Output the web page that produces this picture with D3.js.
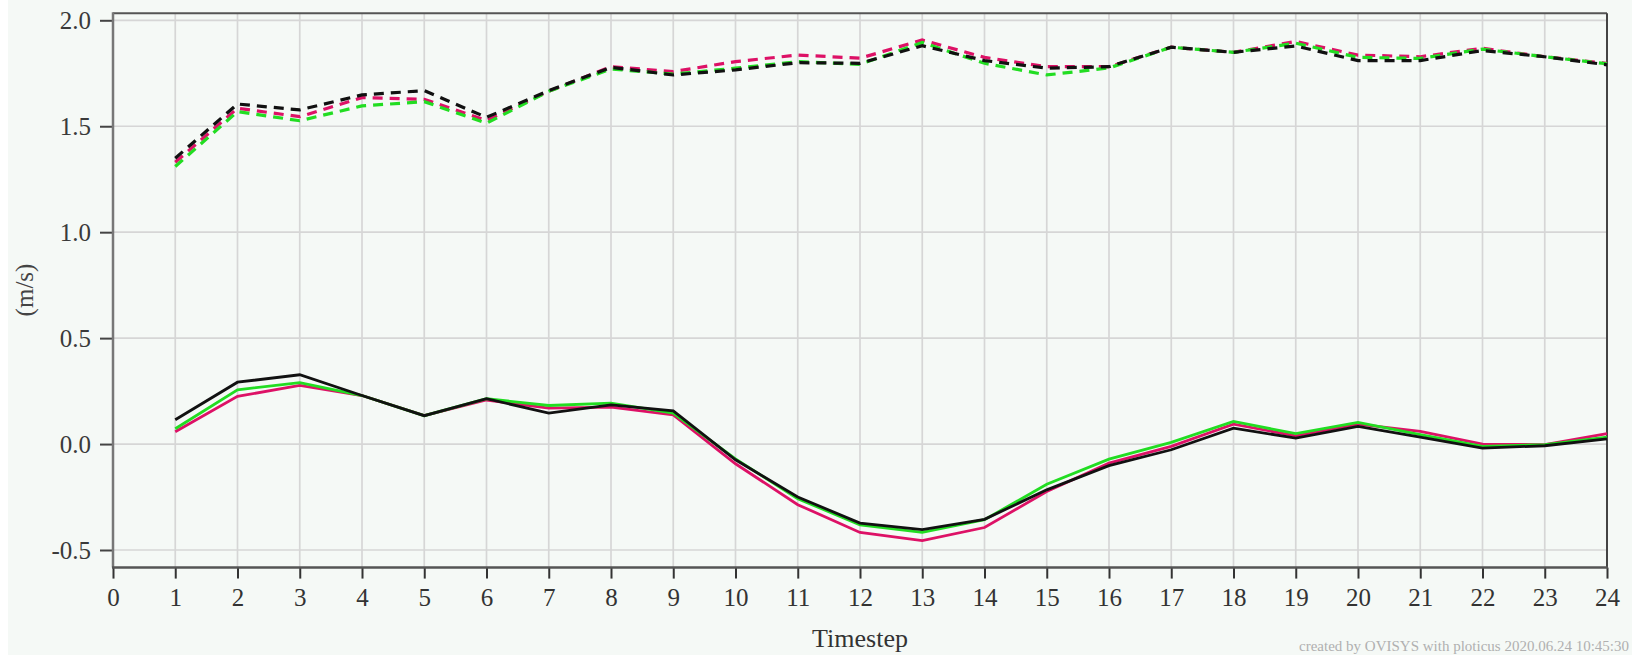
<!DOCTYPE html>
<html>
<head>
<meta charset="utf-8">
<script src="https://cdn.jsdelivr.net/npm/d3@7"></script>
<style>
  html, body { margin: 0; padding: 0; background: #ffffff; }
  svg { display: block; }
  text { font-family: "Liberation Serif", "DejaVu Serif", serif; }
</style>
</head>
<body>
<svg id="chart" width="1632" height="655"></svg>
<script>
// ---- data ----
const timesteps = d3.range(1, 25);
const xTicks = d3.range(0, 25);
const yTicks = [-0.5, 0.0, 0.5, 1.0, 1.5, 2.0];

// upper (dashed) series
const dashRed   = [1.33, 1.585, 1.545, 1.635, 1.627, 1.527, 1.665, 1.781, 1.758, 1.805, 1.836, 1.821, 1.907, 1.825, 1.781, 1.781, 1.873, 1.849, 1.900, 1.836, 1.828, 1.868, 1.828, 1.797];
const dashGreen = [1.31, 1.569, 1.526, 1.596, 1.616, 1.514, 1.665, 1.770, 1.746, 1.774, 1.805, 1.792, 1.895, 1.797, 1.742, 1.775, 1.873, 1.849, 1.892, 1.825, 1.820, 1.864, 1.828, 1.795];
const dashBlack = [1.349, 1.605, 1.577, 1.648, 1.668, 1.542, 1.668, 1.778, 1.742, 1.766, 1.800, 1.797, 1.880, 1.810, 1.774, 1.781, 1.873, 1.849, 1.879, 1.810, 1.810, 1.857, 1.828, 1.790];

// lower (solid) series
const solidRed   = [0.058, 0.225, 0.277, 0.229, 0.134, 0.208, 0.170, 0.174, 0.138, -0.093, -0.286, -0.417, -0.456, -0.394, -0.224, -0.090, -0.011, 0.094, 0.039, 0.094, 0.060, 0.000, -0.003, 0.049];
const solidGreen = [0.072, 0.256, 0.290, 0.229, 0.134, 0.214, 0.182, 0.193, 0.146, -0.070, -0.258, -0.381, -0.417, -0.357, -0.190, -0.071, 0.008, 0.107, 0.049, 0.102, 0.044, -0.011, -0.003, 0.033];
const solidBlack = [0.115, 0.292, 0.327, 0.229, 0.134, 0.214, 0.146, 0.185, 0.157, -0.074, -0.250, -0.373, -0.404, -0.355, -0.216, -0.102, -0.027, 0.075, 0.028, 0.083, 0.033, -0.019, -0.008, 0.024];

const yLabel = "(m/s)";
const xLabel = "Timestep";
const footnote = "created by OVISYS with ploticus 2020.06.24 10:45:30";

// ---- drawing ----
const svg = d3.select("#chart");
const W = 1632, H = 655;

svg.append("rect").attr("x", 0).attr("y", 0).attr("width", W).attr("height", H).attr("fill", "#ffffff");
svg.append("rect").attr("x", 8).attr("y", 0).attr("width", W - 8).attr("height", H).attr("fill", "#f5f9f6");

const x = d3.scaleLinear().domain([0, 24]).range([113, 1607]);
const y = d3.scaleLinear().domain([-0.5, 2.0]).range([550, 20.3]);
const yTop = y(2.033), yBot = y(-0.583);
const xL = x(0), xR = x(24);

// grid
const grid = svg.append("g");
grid.selectAll("line.v").data(d3.range(1, 24)).enter().append("line")
  .attr("x1", d => x(d)).attr("x2", d => x(d))
  .attr("y1", yTop).attr("y2", yBot)
  .attr("stroke", "#d6d6d6").attr("stroke-width", 1.7);
grid.selectAll("line.h").data(yTicks).enter().append("line")
  .attr("x1", xL).attr("x2", xR)
  .attr("y1", d => y(d)).attr("y2", d => y(d))
  .attr("stroke", "#d6d6d6").attr("stroke-width", 1.7);

// frame top/right
svg.append("line").attr("x1", xL).attr("x2", xR).attr("y1", yTop).attr("y2", yTop)
  .attr("stroke", "#555").attr("stroke-width", 2);
svg.append("line").attr("x1", xR).attr("x2", xR).attr("y1", yTop).attr("y2", yBot)
  .attr("stroke", "#444").attr("stroke-width", 2);

// axes
const yAxis = d3.axisLeft(y).tickValues(yTicks).tickFormat(d3.format(".1f")).tickSize(13).tickPadding(9);
const gy = svg.append("g").attr("transform", `translate(${xL},0)`).call(yAxis);
gy.select(".domain").remove();
gy.selectAll(".tick line").attr("stroke", "#444").attr("stroke-width", 2);
gy.selectAll(".tick text").attr("font-size", 25).attr("fill", "#3a3a3a")
  .style("font-family", '"Liberation Serif", serif').text(d => d3.format(".1f")(d).replace("−", "-"));

const xAxis = d3.axisBottom(x).tickValues(xTicks).tickFormat(d3.format("d")).tickSize(11).tickPadding(10);
const gx = svg.append("g").attr("transform", `translate(0,${yBot})`).call(xAxis);
gx.select(".domain").remove();
gx.selectAll(".tick line").attr("stroke", "#333").attr("stroke-width", 2);
gx.selectAll(".tick text").attr("font-size", 25).attr("fill", "#333")
  .style("font-family", '"Liberation Serif", serif');

// axis lines
svg.append("line").attr("x1", xL).attr("x2", xL).attr("y1", yTop - 1).attr("y2", yBot)
  .attr("stroke", "#777").attr("stroke-width", 2.5);
svg.append("line").attr("x1", xL - 1).attr("x2", xR + 1).attr("y1", yBot).attr("y2", yBot)
  .attr("stroke", "#555").attr("stroke-width", 2.5);

// lines
const line = d3.line().x((d, i) => x(timesteps[i])).y(d => y(d));
const series = [
  { v: dashRed,   c: "#dd1166", dash: true },
  { v: dashGreen, c: "#22dd22", dash: true },
  { v: dashBlack, c: "#111111", dash: true },
  { v: solidRed,   c: "#dd1166", dash: false },
  { v: solidGreen, c: "#22dd22", dash: false },
  { v: solidBlack, c: "#111111", dash: false }
];
svg.append("g").selectAll("path").data(series).enter().append("path")
  .attr("d", d => line(d.v))
  .attr("fill", "none")
  .attr("stroke", d => d.c)
  .attr("stroke-width", d => d.dash ? 3.2 : 2.8)
  .attr("stroke-dasharray", d => d.dash ? "10,7" : null)
  .attr("stroke-linejoin", "miter");

// labels
svg.append("text").attr("transform", "translate(33,290) rotate(-90)")
  .attr("text-anchor", "middle").attr("font-size", 25).attr("fill", "#444").text(yLabel);
svg.append("text").attr("x", (xL + xR) / 2).attr("y", 647)
  .attr("text-anchor", "middle").attr("font-size", 26).attr("fill", "#333").text(xLabel);
svg.append("text").attr("x", 1629).attr("y", 651)
  .attr("text-anchor", "end")
  .attr("font-size", 15).attr("fill", "#b0b0b0").text(footnote);
</script>
</body>
</html>
